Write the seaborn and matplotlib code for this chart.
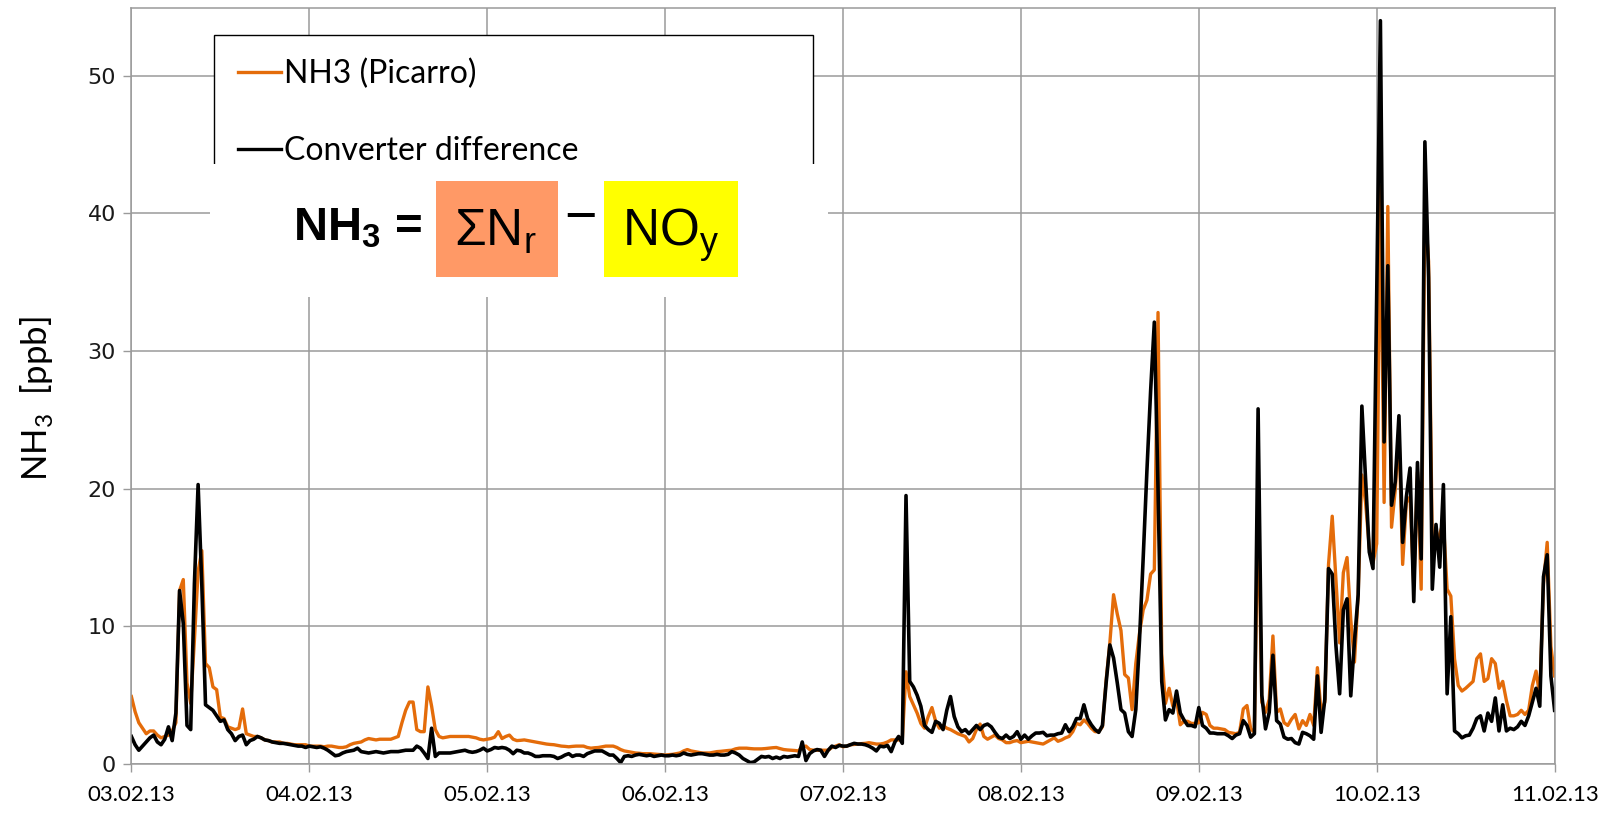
import numpy as np
import pandas as pd
import matplotlib
matplotlib.use("Agg")
import matplotlib.pyplot as plt
import matplotlib.dates as mdates
from matplotlib.patches import Rectangle
import seaborn as sns

# Half-hourly NH3 mixing ratios [ppb], 03.02.2013 00:00 - 11.02.2013 00:00
picarro_d1 = [4.9, 3.8, 3.0, 2.6, 2.2, 2.4, 2.4, 2.1, 1.9, 2.0, 2.1, 2.4,
              3.0, 12.6, 13.4, 5.9, 4.4, 9.0, 14.0, 15.5, 7.3, 7.0, 5.6, 5.4,
              3.4, 3.3, 2.7, 2.6, 2.5, 2.6, 4.0, 2.2, 2.1, 2.0, 2.0, 1.9,
              1.75, 1.7, 1.6, 1.6, 1.6, 1.5, 1.5, 1.45, 1.4, 1.4, 1.4, 1.4]
picarro_d2 = [1.3, 1.3, 1.3, 1.3, 1.25, 1.3, 1.3, 1.25, 1.2, 1.2, 1.25, 1.4,
              1.5, 1.55, 1.6, 1.75, 1.85, 1.8, 1.75, 1.8, 1.8, 1.8, 1.8, 1.9,
              2.0, 3.0, 3.9, 4.5, 4.5, 2.5, 2.35, 2.35, 5.6, 4.2, 2.5, 2.0,
              1.9, 1.95, 2.0, 2.0, 2.0, 2.0, 2.0, 2.0, 1.95, 1.9, 1.8, 1.75]
picarro_d3 = [1.8, 1.85, 1.95, 2.35, 1.85, 2.0, 2.1, 1.8, 1.7, 1.72, 1.75, 1.7,
              1.65, 1.6, 1.55, 1.5, 1.45, 1.42, 1.4, 1.35, 1.3, 1.28, 1.25, 1.28,
              1.3, 1.3, 1.3, 1.2, 1.15, 1.18, 1.2, 1.25, 1.3, 1.3, 1.3, 1.2,
              1.05, 0.95, 0.9, 0.85, 0.8, 0.78, 0.75, 0.75, 0.75, 0.72, 0.7, 0.68]
picarro_d4 = [0.65, 0.68, 0.7, 0.75, 0.8, 0.95, 1.05, 0.95, 0.9, 0.85, 0.8, 0.8,
              0.8, 0.85, 0.9, 0.92, 0.95, 0.98, 1.0, 1.1, 1.15, 1.15, 1.15, 1.12,
              1.1, 1.1, 1.1, 1.12, 1.15, 1.18, 1.2, 1.12, 1.05, 1.02, 1.0, 0.98,
              0.95, 1.25, 1.3, 1.05, 1.0, 1.0, 1.0, 1.0, 1.0, 1.2, 1.3, 1.4]
picarro_d5 = [1.25, 1.3, 1.4, 1.42, 1.45, 1.48, 1.5, 1.55, 1.5, 1.45, 1.45, 1.5,
              1.6, 1.75, 1.75, 1.75, 1.75, 6.7, 4.9, 4.3, 3.7, 2.95, 2.6, 3.45,
              4.1, 3.1, 2.6, 2.8, 2.6, 2.5, 2.35, 2.2, 2.1, 2.0, 1.6, 1.85,
              2.5, 2.9, 2.0, 1.8, 1.95, 2.1, 1.85, 1.75, 1.55, 1.55, 1.65, 1.7]
picarro_d6 = [1.55, 1.6, 1.65, 1.6, 1.55, 1.5, 1.45, 1.6, 1.75, 1.9, 1.65, 1.75,
              1.9, 2.0, 2.35, 2.95, 2.85, 3.2, 2.95, 2.6, 2.35, 2.35, 2.7, 6.1,
              8.8, 12.3, 10.9, 9.7, 6.5, 6.25, 3.95, 7.3, 9.5, 11.2, 11.9, 13.8,
              14.1, 32.8, 8.0, 4.4, 5.5, 4.2, 4.65, 2.85, 3.1, 3.1, 2.95, 2.95]
picarro_d7 = [3.0, 3.75, 3.6, 2.8, 2.6, 2.6, 2.55, 2.5, 2.3, 2.25, 2.2, 2.3,
              4.0, 4.25, 2.55, 2.3, 19.5, 4.5, 3.75, 4.7, 9.3, 3.75, 4.0, 3.0,
              2.8, 3.25, 3.6, 2.55, 3.15, 2.8, 3.6, 2.8, 7.0, 3.75, 4.5, 14.5,
              18.0, 13.4, 8.8, 13.9, 15.0, 10.5, 7.4, 12.3, 21.0, 19.0, 15.7, 14.6]
picarro_d8 = [16.0, 42.0, 19.0, 40.5, 17.2, 19.9, 24.1, 14.5, 19.0, 19.4, 12.9, 21.2,
              12.7, 40.5, 36.5, 15.8, 16.1, 16.7, 17.6, 12.7, 12.2, 7.65, 5.7, 5.3,
              5.5, 5.75, 6.0, 7.65, 8.0, 6.0, 6.2, 7.65, 7.3, 5.5, 6.0, 4.6,
              3.5, 3.5, 3.6, 3.9, 3.6, 3.9, 5.7, 6.75, 4.95, 13.1, 16.1, 8.55, 6.4]

converter_d1 = [2.0, 1.4, 1.0, 1.3, 1.6, 1.9, 2.1, 1.6, 1.4, 1.8, 2.7, 1.7,
                3.7, 12.6, 10.2, 2.8, 2.5, 13.1, 20.3, 13.0, 4.3, 4.1, 3.9, 3.5,
                3.1, 3.2, 2.5, 2.2, 1.7, 2.0, 2.1, 1.4, 1.7, 1.8, 2.0, 1.9,
                1.75, 1.7, 1.6, 1.55, 1.5, 1.5, 1.45, 1.4, 1.35, 1.3, 1.3, 1.2]
converter_d2 = [1.3, 1.25, 1.2, 1.25, 1.15, 1.0, 0.8, 0.6, 0.65, 0.8, 0.9, 0.95,
                1.0, 1.15, 0.9, 0.85, 0.8, 0.85, 0.9, 0.85, 0.8, 0.85, 0.9, 0.9,
                0.9, 0.95, 1.0, 1.0, 1.0, 1.3, 1.15, 0.8, 0.4, 2.6, 0.55, 0.8,
                0.8, 0.8, 0.8, 0.85, 0.9, 0.95, 1.0, 0.9, 0.85, 0.9, 1.0, 1.15]
converter_d3 = [0.95, 1.05, 1.2, 1.15, 1.2, 1.15, 1.0, 0.75, 1.0, 0.95, 0.8, 0.8,
                0.7, 0.55, 0.55, 0.6, 0.6, 0.6, 0.55, 0.4, 0.5, 0.65, 0.75, 0.55,
                0.65, 0.65, 0.55, 0.75, 0.85, 0.95, 0.95, 0.95, 0.8, 0.65, 0.65, 0.4,
                0.1, 0.55, 0.6, 0.55, 0.65, 0.7, 0.65, 0.6, 0.65, 0.55, 0.6, 0.65]
converter_d4 = [0.6, 0.6, 0.65, 0.6, 0.65, 0.8, 0.7, 0.65, 0.7, 0.75, 0.75, 0.7,
                0.65, 0.65, 0.7, 0.65, 0.65, 0.7, 0.9, 0.8, 0.65, 0.4, 0.25, 0.1,
                0.15, 0.35, 0.55, 0.5, 0.55, 0.4, 0.5, 0.4, 0.55, 0.5, 0.55, 0.6,
                0.55, 1.6, 0.25, 0.75, 0.95, 1.05, 1.0, 0.55, 1.0, 1.3, 1.2, 1.35]
converter_d5 = [1.3, 1.3, 1.4, 1.5, 1.45, 1.45, 1.4, 1.3, 1.15, 0.95, 1.3, 1.25,
                1.35, 0.9, 1.6, 2.0, 1.5, 19.5, 6.0, 5.6, 5.0, 4.2, 2.8, 2.5,
                2.3, 3.1, 2.95, 2.5, 3.9, 4.9, 3.45, 2.7, 2.35, 2.5, 2.2, 2.5,
                2.8, 2.5, 2.8, 2.9, 2.7, 2.3, 1.95, 1.85, 2.1, 1.85, 2.0, 2.35]
converter_d6 = [1.8, 2.1, 1.8, 2.05, 2.25, 2.25, 2.3, 2.05, 2.1, 2.1, 2.2, 2.25,
                2.85, 2.35, 2.7, 3.3, 3.3, 4.3, 3.3, 2.85, 2.5, 2.3, 2.8, 5.9,
                8.65, 7.7, 5.9, 3.95, 3.7, 2.35, 2.0, 3.95, 9.0, 15.0, 21.3, 27.1,
                32.1, 20.0, 6.0, 3.2, 3.95, 3.7, 5.3, 3.7, 3.2, 2.8, 2.8, 2.7]
converter_d7 = [4.1, 2.8, 2.6, 2.25, 2.25, 2.2, 2.2, 2.2, 2.05, 1.85, 2.1, 2.2,
                3.15, 2.8, 1.95, 2.2, 25.8, 5.0, 2.55, 3.75, 7.9, 3.15, 2.9, 1.95,
                1.8, 1.85, 1.55, 1.45, 2.3, 2.2, 2.05, 1.8, 6.4, 2.3, 4.7, 14.2,
                13.8, 8.6, 5.1, 11.2, 12.0, 4.95, 8.9, 12.3, 26.0, 20.7, 15.4, 14.2]
converter_d8 = [34.0, 54.0, 23.4, 36.2, 18.8, 20.5, 25.3, 16.1, 19.4, 21.5, 11.8, 21.9,
                14.9, 45.2, 35.3, 12.7, 17.4, 14.3, 20.3, 5.1, 10.7, 2.4, 2.2, 1.9,
                2.05, 2.1, 2.6, 3.3, 3.5, 2.4, 3.7, 3.1, 4.8, 2.4, 4.3, 2.4,
                2.6, 2.5, 2.7, 3.1, 2.8, 3.5, 4.5, 5.5, 4.2, 13.6, 15.2, 6.4, 3.9]

series_labels = ["NH3 (Picarro)", "Converter difference"]
date_ticks = pd.date_range("2013-02-03", "2013-02-11", freq="D")
y_ticks = [0, 10, 20, 30, 40, 50]

picarro = np.array(picarro_d1 + picarro_d2 + picarro_d3 + picarro_d4
                   + picarro_d5 + picarro_d6 + picarro_d7 + picarro_d8)
converter = np.array(converter_d1 + converter_d2 + converter_d3 + converter_d4
                     + converter_d5 + converter_d6 + converter_d7 + converter_d8)
time = pd.date_range("2013-02-03 00:00", "2013-02-11 00:00", freq="30min")

plt.rcParams["mathtext.fontset"] = "dejavusans"

W, H = 1623, 814
fig = plt.figure(figsize=(W / 100, H / 100), dpi=100)
ax = fig.add_axes([131.4 / W, (H - 764) / H, 1423.2 / W, 755.7 / H])

orange = "#E46C0A"
sns.lineplot(x=time, y=picarro, color=orange, linewidth=2.4, label=series_labels[0], ax=ax)
sns.lineplot(x=time, y=converter, color="black", linewidth=2.6, label=series_labels[1], ax=ax)

grid_c = "#9A9A9A"
ax.set_xlim(date_ticks[0], date_ticks[-1])
ax.set_ylim(0, 54.9)
ax.set_xticks(date_ticks)
ax.xaxis.set_major_formatter(mdates.DateFormatter("%d.%m.%y"))
ax.set_yticks(y_ticks)
ax.grid(True, color=grid_c, linewidth=1.1)
ax.set_axisbelow(True)
for sp in ax.spines.values():
    sp.set_color(grid_c)
    sp.set_linewidth(1.1)
ax.tick_params(axis="both", direction="out", length=6, width=1.0, color=grid_c)
ax.tick_params(axis="y", pad=5, labelsize=16, labelcolor="#1a1a1a")
ax.tick_params(axis="x", pad=9, labelsize=16, labelcolor="black")
for lab in ax.get_xticklabels():
    lab.set_family("Lato")
for lab in ax.get_yticklabels():
    lab.set_family("DejaVu Sans")

ax.set_xlabel("")
ax.set_ylabel(r"NH$_\mathregular{3}$  [ppb]", family="Lato", fontsize=25, va="center")
ax.yaxis.set_label_coords(-0.067, 0.4837)

handles, labels = ax.get_legend_handles_labels()
leg = ax.legend(handles, labels, loc="upper left",
                bbox_to_anchor=((214 - 131.4) / 1423.2, 0.0, 598.5 / 1423.2, (764 - 35.2) / 755.7),
                mode="expand", borderaxespad=0, borderpad=0.75, handlelength=1.36,
                handletextpad=0.08, labelspacing=1.45, fancybox=False, framealpha=1,
                edgecolor="black", prop={"family": "Lato", "size": 23})
leg.get_frame().set_linewidth(1.0)
for h in leg.legend_handles:
    h.set_linewidth(2.4)

# white panel holding the equation, drawn over the legend's lower part
def fig_rect(x0, y0, x1, y1, color):
    fig.patches.append(Rectangle((x0 / W, 1 - y1 / H), (x1 - x0) / W, (y1 - y0) / H,
                                 transform=fig.transFigure, facecolor=color,
                                 edgecolor="none", zorder=3))

fig_rect(210, 163.5, 828, 297, "white")
fig_rect(435.7, 181, 557.9, 277.4, "#FF9966")
fig_rect(604.4, 181, 738, 277.4, "#FFFF00")

eq_font = ["Liberation Sans", "DejaVu Sans"]
fig.text(293 / W, 1 - 241 / H, r"NH$_\mathregular{3}$ =", family=eq_font, fontweight="bold",
         fontsize=34, ha="left", va="baseline", zorder=4)
fig.text(495 / W, 1 - 246 / H, r"ΣN$_\mathregular{r}$", family=eq_font, fontsize=37,
         ha="center", va="baseline", zorder=4)
fig.text(580 / W, 1 - 220 / H, "\u2212", family=eq_font,
         fontsize=40, ha="center", va="center", zorder=4)
fig.text(670.5 / W, 1 - 246 / H, r"NO$_\mathregular{y}$", family=eq_font,
         fontsize=37, ha="center", va="baseline", zorder=4)

fig.savefig("out.png", dpi=100)
